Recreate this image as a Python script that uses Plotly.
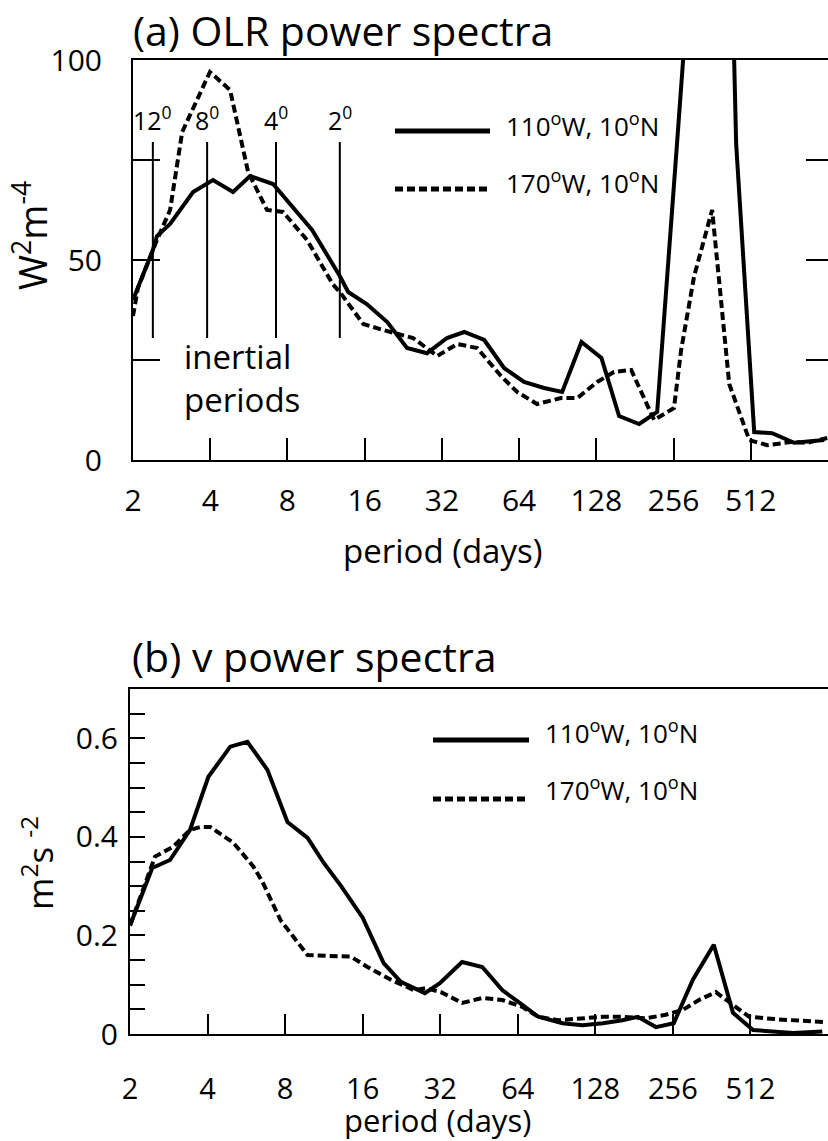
import math
import plotly.graph_objects as go

W, H = 828, 1141
FONT = "Open Sans"

# ---------------- data ----------------
period_ticks = [2, 4, 8, 16, 32, 64, 128, 256, 512]
period_ticktext = ["2", "4", "8", "16", "32", "64", "128", "256", "512"]

# (a) OLR power spectra  (W^2 m^-4)
olr_period_110 = [2.0, 2.39, 2.48, 2.79, 3.43, 4.10, 4.91, 5.72, 7.03, 8.19, 9.98, 12.8, 13.8,
                  16.3, 19.6, 23.4, 28.0, 33.5, 39.1, 46.8, 55.9, 66.9, 80.1, 94.2, 112, 134,
                  157, 188, 221, 264, 297, 418, 449, 528, 620, 756, 990]
olr_power_110 = [40, 52.5, 56, 59, 67, 70, 67, 71, 69, 64, 57.5, 46, 42,
                 39, 34.5, 28, 26.7, 30.5, 32, 30, 23, 19.5, 18, 17, 29.5, 25.5,
                 11, 9, 12, 79, 124, 163, 79, 7, 6.7, 4.3, 5]

olr_period_170 = [2.0, 2.09, 2.48, 2.79, 3.11, 3.55, 3.99, 4.78, 5.62, 6.66, 7.69, 9.54, 12.0,
                  12.8, 15.8, 18.9, 24.7, 30.7, 36.7, 43.9, 54.4, 62.9, 75.2, 93.3, 108, 129,
                  150, 175, 215, 257, 274, 308, 362, 422, 505, 593, 736, 850, 1017]
olr_power_170 = [36, 43, 55, 62.5, 82, 90, 97, 92.5, 72, 62.5, 62, 55, 44,
                 42, 34, 32.5, 30.5, 26, 29, 28, 21, 17, 14, 15.5, 15.5, 19.5,
                 22, 22.5, 10, 13, 27.5, 46, 62.5, 19, 5, 3.7, 4.5, 4.3, 5.5]

# inertial periods (days) and latitude labels
inertial_period = [2.39, 3.89, 7.22, 12.8]
inertial_label = ["12<sup>0</sup>", "8<sup>0</sup>", "4<sup>0</sup>", "2<sup>0</sup>"]

# (b) v power spectra (m^2 s^-2)
v_period_110 = [2.0, 2.44, 2.86, 3.42, 4.03, 4.90, 5.71, 6.83, 8.17, 9.78, 11.3, 13.2, 16.0,
                19.3, 22.5, 25.3, 27.9, 31.9, 38.9, 46.6, 55.7, 64.3, 76.9, 95.4, 114, 137,
                163, 187, 220, 258, 306, 369, 438, 524, 750, 973]
v_power_110 = [0.22, 0.337, 0.353, 0.414, 0.522, 0.583, 0.593, 0.536, 0.43, 0.398, 0.347, 0.30, 0.236,
               0.144, 0.106, 0.093, 0.083, 0.103, 0.146, 0.136, 0.089, 0.065, 0.035, 0.022, 0.018, 0.022,
               0.028, 0.035, 0.014, 0.022, 0.11, 0.181, 0.043, 0.008, 0.002, 0.005]

v_period_170 = [2.0, 2.50, 2.94, 3.42, 3.75, 4.10, 5.04, 6.02, 6.53, 7.68, 9.78, 14.4, 16.7,
                20.6, 25.3, 28.2, 32.2, 38.9, 46.6, 55.7, 66.6, 76.9, 92.0, 114, 137, 163,
                201, 240, 280, 323, 376, 438, 506, 644, 792, 990]
v_power_170 = [0.22, 0.36, 0.38, 0.414, 0.42, 0.42, 0.388, 0.34, 0.309, 0.231, 0.16, 0.157, 0.136,
               0.11, 0.089, 0.093, 0.085, 0.063, 0.073, 0.069, 0.055, 0.035, 0.028, 0.032, 0.035, 0.035,
               0.032, 0.039, 0.049, 0.069, 0.085, 0.059, 0.035, 0.03, 0.028, 0.024]

legend_names = ["110<sup>o</sup>W, 10<sup>o</sup>N", "170<sup>o</sup>W, 10<sup>o</sup>N"]

# ---------------- helpers ----------------
def px(x):
    return x / W

def py(y):
    return 1 - y / H

DASH = "8px,4px"
LW = 4

fig = go.Figure()

def add_line(x, y, xa, ya, dashed):
    fig.add_trace(go.Scatter(
        x=x, y=y, mode="lines", xaxis=xa, yaxis=ya, showlegend=False,
        line=dict(color="black", width=LW, dash=DASH if dashed else "solid"),
        hoverinfo="skip"))

add_line(olr_period_110, olr_power_110, "x", "y", False)
add_line(olr_period_170, olr_power_170, "x", "y", True)
add_line(v_period_110, v_power_110, "x2", "y2", False)
add_line(v_period_170, v_power_170, "x2", "y2", True)

xrange_log = [math.log10(2), math.log10(1024)]


def x_axis(domain, anchor, ticklen, standoff, size):
    return dict(type="log", range=xrange_log, tickvals=period_ticks, ticktext=period_ticktext,
                ticks="inside", ticklen=ticklen, showline=True, linecolor="black", linewidth=2,
                mirror=True, tickcolor="black", tickwidth=2, showgrid=False, zeroline=False,
                tickfont=dict(family=FONT, size=size, color="black"), automargin=False,
                ticklabelposition="outside", ticklabelstandoff=standoff,
                domain=domain, anchor=anchor)


fig.update_layout(
    width=W, height=H, autosize=False,
    margin=dict(l=0, r=0, t=0, b=0),
    paper_bgcolor="white", plot_bgcolor="white",
    font=dict(family=FONT, color="black"),
    xaxis=x_axis([px(133), 1], "y", 22, 13, 30),
    yaxis=dict(domain=[py(460), py(60)], anchor="x", range=[0, 100],
               tickvals=[0, 25, 50, 75, 100], ticktext=["0", "", "50", "", "100"],
               ticks="inside", ticklen=27, tickwidth=2, tickcolor="black",
               showline=True, linecolor="black", linewidth=2, showgrid=False, zeroline=False,
               tickfont=dict(family=FONT, size=30, color="black"), ticklabelstandoff=23,
               automargin=False),
    xaxis2=x_axis([px(130), 1], "y2", 20, 28, 29),
    yaxis2=dict(domain=[py(1034), py(689)], anchor="x2", range=[0, 0.7],
                tickvals=[i * 0.05 for i in range(14)],
                ticktext=["0", "", "", "", "0.2", "", "", "", "0.4", "", "", "", "0.6", ""],
                ticks="inside", ticklen=15, tickwidth=2, tickcolor="black",
                showline=True, linecolor="black", linewidth=2, showgrid=False, zeroline=False,
                tickfont=dict(family=FONT, size=30, color="black"), ticklabelstandoff=4,
                automargin=False),
)

shapes = []
annotations = []

# right-side ticks of panel (a)
for v in [25, 50, 75]:
    shapes.append(dict(type="line", xref="paper", yref="y", x0=px(806), x1=1, y0=v, y1=v,
                       line=dict(color="black", width=2)))

# inertial period lines and labels
for p, lab in zip(inertial_period, inertial_label):
    shapes.append(dict(type="line", xref="x", yref="y", x0=p, x1=p, y0=30.5, y1=79.5,
                       line=dict(color="black", width=2)))
    annotations.append(dict(x=math.log10(p), y=85.5, xref="x", yref="y", text=lab,
                            showarrow=False, xanchor="center", yanchor="middle",
                            font=dict(family=FONT, size=25, color="black")))

annotations.append(dict(x=px(182), y=py(378), xref="paper", yref="paper",
                        text="inertial<br>periods", showarrow=False, xanchor="left",
                        yanchor="middle", align="left",
                        font=dict(family=FONT, size=33, color="black")))

# legends (drawn)
def legend(x0, x1, y_solid, y_dot, xt, yt_solid, yt_dot):
    shapes.append(dict(type="line", xref="paper", yref="paper", x0=px(x0), x1=px(x1),
                       y0=py(y_solid), y1=py(y_solid), line=dict(color="black", width=5)))
    shapes.append(dict(type="line", xref="paper", yref="paper", x0=px(x0), x1=px(x1),
                       y0=py(y_dot), y1=py(y_dot), line=dict(color="black", width=5, dash=DASH)))
    for yy, name in [(yt_solid, legend_names[0]), (yt_dot, legend_names[1])]:
        annotations.append(dict(x=px(xt), y=py(yy), xref="paper", yref="paper", text=name,
                                showarrow=False, xanchor="left", yanchor="middle",
                                font=dict(family=FONT, size=26, color="black")))

legend(395, 490, 131, 189, 504, 125, 182)
legend(433, 529, 740, 799, 543, 732, 789)

# titles
annotations.append(dict(x=px(131), y=py(30), xref="paper", yref="paper",
                        text="(a) OLR power spectra", showarrow=False, xanchor="left",
                        yanchor="middle", font=dict(family=FONT, size=41, color="black")))
annotations.append(dict(x=px(130), y=py(656), xref="paper", yref="paper",
                        text="(b) v power spectra", showarrow=False, xanchor="left",
                        yanchor="middle", font=dict(family=FONT, size=41, color="black")))

# axis titles
annotations.append(dict(x=px(442), y=py(550), xref="paper", yref="paper",
                        text="period (days)", showarrow=False, xanchor="center",
                        yanchor="middle", font=dict(family=FONT, size=33, color="black")))
annotations.append(dict(x=px(437), y=py(1120), xref="paper", yref="paper",
                        text="period (days)", showarrow=False, xanchor="center",
                        yanchor="middle", font=dict(family=FONT, size=31, color="black")))
annotations.append(dict(x=px(30), y=py(236), xref="paper", yref="paper",
                        text="W<sup>2</sup>m<sup>-4</sup>", showarrow=False, textangle=-90,
                        xanchor="center", yanchor="middle",
                        font=dict(family=FONT, size=38, color="black")))
annotations.append(dict(x=px(38), y=py(863), xref="paper", yref="paper",
                        text="m<sup>2</sup>s <sup>-2</sup>", showarrow=False, textangle=-90,
                        xanchor="center", yanchor="middle",
                        font=dict(family=FONT, size=35, color="black")))

fig.update_layout(shapes=shapes, annotations=annotations)

fig.write_html("out.html")
